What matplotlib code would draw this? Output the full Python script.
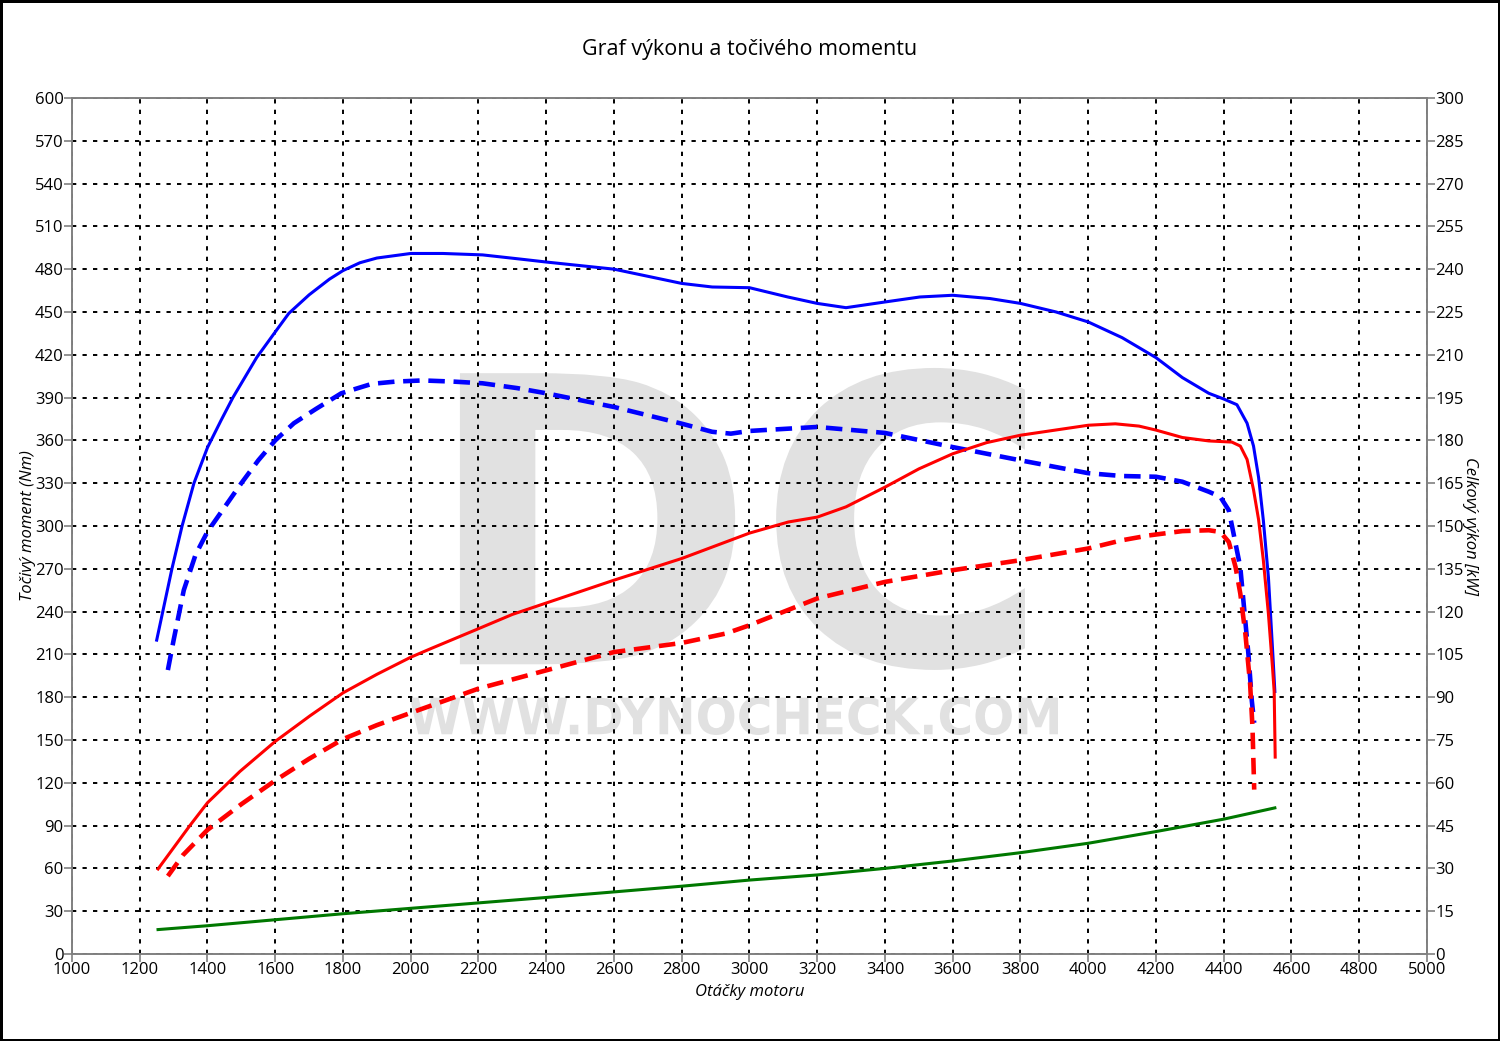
import matplotlib
matplotlib.use('Agg')
import matplotlib.pyplot as plt
from matplotlib.textpath import TextPath
from matplotlib.patches import PathPatch
from matplotlib.font_manager import FontProperties
from matplotlib.transforms import Affine2D
import numpy as np

plt.rcParams['font.family'] = ['Open Sans', 'DejaVu Sans']

# otacky (rpm)
# tocivy moment po uprave (Nm) - modra plna
rpm_tq_tuned = [1250, 1295, 1325, 1360, 1400, 1440, 1475, 1545, 1600, 1640, 1700, 1760, 1800, 1850,
                1900, 2000, 2095, 2212, 2326, 2400, 2600, 2800, 2890, 3000, 3113, 3200, 3285, 3400,
                3503, 3600, 3710, 3800, 3905, 4000, 4100, 4200, 4278, 4356, 4400, 4439, 4469, 4488,
                4503, 4517, 4532, 4546, 4551]
tq_tuned = [220, 270, 300, 330, 355, 374, 390, 418, 436, 449, 462, 473, 479, 484.5,
            487.8, 491, 491, 490, 487, 485, 480, 470, 467.5, 467, 460.5, 456, 453, 457,
            460.5, 461.7, 459.4, 456, 450, 443, 432, 418, 404, 393, 389, 385, 372, 356,
            334, 304, 264, 206, 184]

# tocivy moment serie (Nm) - modra carkovana
rpm_tq_stock = [1283, 1300, 1330, 1365, 1400, 1450, 1500, 1550, 1600, 1655, 1720, 1795, 1885, 1955,
                2035, 2125, 2212, 2315, 2400, 2600, 2800, 2890, 2945, 3000, 3200, 3400, 3600, 3800,
                4000, 4100, 4200, 4278, 4356, 4390, 4415, 4429, 4449, 4459, 4473, 4483, 4490]
tq_stock = [199, 220, 255, 280, 296, 313, 330, 346, 360, 372, 382, 393, 399.6, 401.2,
            402, 401.2, 400, 396.6, 393, 383.4, 371.7, 366, 364.7, 366.6, 369.4, 365.2, 355.3, 346,
            337, 335, 334.5, 331, 324, 320.4, 311, 294.7, 271, 245.4, 210, 177.4, 162]

# vykon po uprave (kW) - cervena plna
rpm_pw_tuned = [1254, 1348, 1400, 1496, 1600, 1703, 1800, 1900, 2000, 2059, 2200, 2300, 2400, 2600,
                2800, 3000, 3115, 3200, 3285, 3400, 3500, 3600, 3700, 3800, 4000, 4080, 4150, 4200,
                4278, 4356, 4424, 4449, 4469, 4488, 4503, 4517, 4532, 4544, 4549, 4552]
pw_tuned = [29.8, 45, 53, 64, 74.5, 83.5, 91.5, 98, 104, 107, 114, 119, 123, 131,
            138.6, 147.5, 151.4, 153.1, 156.7, 163.6, 170, 175.3, 179.2, 181.8, 185.3, 185.8, 185, 183.6,
            181, 179.8, 179.4, 178, 173.3, 162.7, 152.2, 138, 119.2, 100.5, 92, 69]

# vykon serie (kW) - cervena carkovana
rpm_pw_stock = [1283, 1328, 1400, 1500, 1600, 1700, 1800, 1900, 2000, 2059, 2200, 2400, 2600, 2800,
                2930, 3000, 3200, 3400, 3600, 3800, 4000, 4100, 4180, 4278, 4356, 4390, 4415, 4435,
                4449, 4464, 4478, 4485, 4490]
pw_stock = [27.3, 34.7, 43.5, 52.5, 60.8, 68.4, 75.3, 80.2, 84.5, 87, 93, 99.4, 105.8, 109,
            112.3, 115.2, 124.6, 130.4, 134.5, 138, 142.1, 145, 146.7, 148.2, 148.5, 147.9, 144.4, 135.6,
            126.3, 112.2, 94.6, 79.4, 57.6]

# ztraty (zelena)
rpm_loss = [1254, 1400, 1600, 1800, 2000, 2200, 2400, 2600, 2800, 3000, 3200, 3400, 3600, 3800,
            4000, 4200, 4400, 4551]
loss = [17.1, 19.8, 24, 28.2, 32, 35.8, 39.6, 43.5, 47.5, 51.8, 55.4, 60, 65.2, 71,
        77.6, 85.8, 94.5, 102.4]

x_ticks = np.arange(1000, 5001, 200)
left_ticks = np.arange(0, 601, 30)
right_ticks = np.arange(0, 301, 15)

fig = plt.figure(figsize=(15, 10.41), dpi=100, edgecolor='black', linewidth=2.5)
ax = fig.add_axes([0.048, 0.0836, 0.9033, 0.8223])
ax2 = ax.twinx()

# vodoznak
def watermark(text, x0, y0, x1, y1):
    tp = TextPath((0, 0), text, size=1, prop=FontProperties(family='DejaVu Sans', weight='bold'))
    ext = tp.get_extents()
    tr = (Affine2D().translate(-ext.x0, -ext.y0)
          .scale((x1 - x0) / ext.width, (y1 - y0) / ext.height)
          .translate(x0, y0))
    ax.add_patch(PathPatch(tr.transform_path(tp), transform=ax.transAxes,
                           facecolor='#e1e1e1', edgecolor='none', zorder=0.5))

watermark('DC', 0.2863, 0.3318, 0.7033, 0.6846)
watermark('WWW.DYNOCHECK.COM', 0.2494, 0.2558, 0.7277, 0.3002)

ax.plot(rpm_loss, loss, color='#007800', lw=2.2, zorder=3)
ax.plot(rpm_tq_tuned, tq_tuned, color='#0000ff', lw=2.2, zorder=3)
ax.plot(rpm_tq_stock, tq_stock, color='#0000ff', lw=3.3, dashes=(3.6, 1.9), zorder=3)
ax2.plot(rpm_pw_tuned, pw_tuned, color='#ff0000', lw=2.2, zorder=3)
ax2.plot(rpm_pw_stock, pw_stock, color='#ff0000', lw=3.3, dashes=(3.6, 1.9), zorder=3)

ax.set_xlim(1000, 5000)
ax.set_ylim(0, 600)
ax2.set_ylim(0, 300)
ax.set_xticks(x_ticks)
ax.set_yticks(left_ticks)
ax2.set_yticks(right_ticks)

ax.grid(True, color='black', linestyle=(0, (2.2, 3.2)), linewidth=1.4)
for a in (ax, ax2):
    for s in a.spines.values():
        s.set_color('#808080')
        s.set_linewidth(1.2)
    a.tick_params(colors='#808080', labelcolor='black', labelsize=12, length=6, width=1.2, pad=0)

ax.set_title('Graf výkonu a točivého momentu', fontsize=15.5, pad=31)
ax.set_xlabel('Otáčky motoru', fontsize=12, style='italic', labelpad=4)
ax.set_ylabel('Točivý moment (Nm)', fontsize=12, style='italic', labelpad=-1)
ax2.set_ylabel('Celkový výkon [kW]', fontsize=12, style='italic', rotation=270, labelpad=10)

fig.savefig('out.png', dpi=100)
